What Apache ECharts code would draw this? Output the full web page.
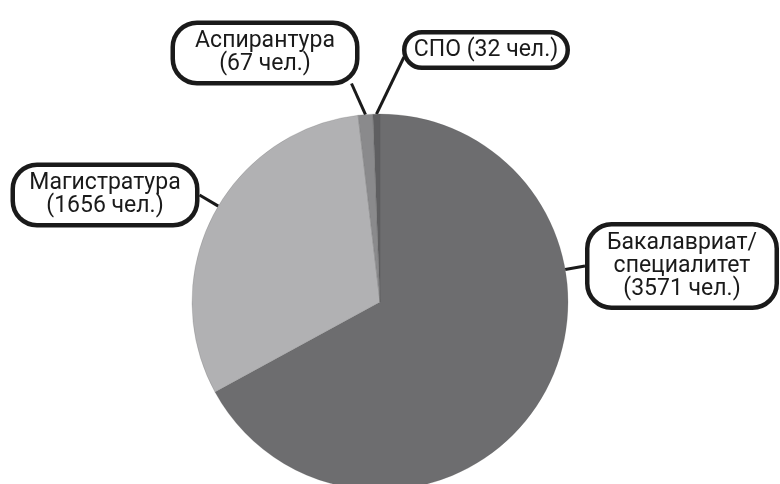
<!DOCTYPE html>
<html>
<head>
<meta charset="utf-8">
<script src="https://cdn.jsdelivr.net/npm/echarts@6/dist/echarts.min.js"></script>
<style>
html,body{margin:0;padding:0;background:#fff;}
#chart{width:780px;height:484px;}
</style>
</head>
<body>
<div id="chart"></div>
<script>
// Data
var categories = ['Бакалавриат/\nспециалитет', 'Магистратура', 'Аспирантура', 'СПО'];
var values = [3571, 1656, 67, 32];
var unitText = 'чел.';
var colors = ['#6d6d6f', '#b1b1b3', '#8a8a8c', '#5f5f61'];

// Label box layout (center positions, widths, paddings)
var labelBoxes = [
  {x: 682, y: 266, width: 185, pad: 5},
  {x: 105, y: 195, width: 180, pad: 5},
  {x: 265, y: 53, width: 180, pad: 5},
  {x: 486, y: 50, width: 159, pad: 4}
];
var pieCenter = [380, 302];
var pieRadius = 188;

var chart = echarts.init(document.getElementById('chart'));

var data = categories.map(function (c, i) {
  return {
    name: c,
    value: values[i],
    itemStyle: {color: colors[i]},
    label: {width: labelBoxes[i].width, padding: [labelBoxes[i].pad, 0]}
  };
});

function edgePoint(tx, ty) {
  var dx = tx - pieCenter[0], dy = ty - pieCenter[1];
  var d = Math.sqrt(dx * dx + dy * dy);
  return [pieCenter[0] + dx / d * pieRadius, pieCenter[1] + dy / d * pieRadius];
}

chart.setOption({
  animation: false,
  series: [{
    type: 'pie',
    center: pieCenter,
    radius: [0, pieRadius],
    startAngle: 90,
    clockwise: true,
    avoidLabelOverlap: false,
    data: data,
    itemStyle: {borderColor: 'rgba(90,90,90,0.35)', borderWidth: 0.6},
    label: {
      show: true,
      position: 'outside',
      overflow: 'none',
      formatter: function (p) {
        var sep = p.dataIndex === 3 ? ' ' : '\n';
        return p.name + sep + '(' + p.value + ' ' + unitText + ')';
      },
      fontFamily: 'Roboto, Liberation Sans, Arial, sans-serif',
      fontSize: 23,
      lineHeight: 23,
      color: '#1a1a1a',
      align: 'center',
      backgroundColor: '#fff',
      borderColor: '#1a1a1a',
      borderWidth: 4.5,
      borderRadius: 22
    },
    labelLine: {
      show: true,
      length: 10,
      length2: 0,
      lineStyle: {color: '#1a1a1a', width: 3}
    },
    labelLayout: function (params) {
      var i = params.dataIndex;
      var b = labelBoxes[i];
      var out = {x: b.x, y: b.y, align: 'center', verticalAlign: 'middle'};
      var r = params.labelRect;
      var p0 = params.labelLinePoints ? params.labelLinePoints[0] : null;
      var end, start;
      if (i === 0) {
        end = [b.x - r.width / 2, b.y];
        start = edgePoint(end[0], end[1]);
        out.labelLinePoints = [start, end, end];
      } else if (i === 1) {
        end = [b.x + r.width / 2, b.y];
        start = edgePoint(end[0], end[1]);
        out.labelLinePoints = [start, end, end];
      } else if (i === 2 && p0) {
        end = [b.x + r.width / 2 - 8, b.y + r.height / 2 - 2];
        out.labelLinePoints = [p0, end, end];
      } else if (i === 3 && p0) {
        end = [b.x - r.width / 2 + 2, b.y + 7];
        out.labelLinePoints = [p0, end, end];
      }
      return out;
    }
  }]
});
</script>
</body>
</html>
